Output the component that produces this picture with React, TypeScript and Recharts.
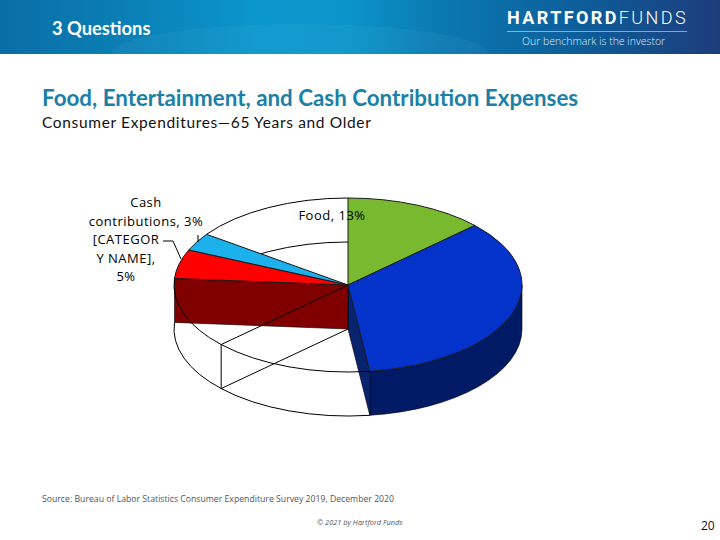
import { Pie, PieChart } from 'recharts';

const categories = ['Food', 'Housing', 'Transportation', 'Healthcare', '[CATEGORY NAME]', 'Cash contributions', 'Other'];
const shares = [13, 35, 15, 13.2, 5.4, 3.3, 15.1];
const topColors = ['#79b92f', '#0433cc', '', '', '#ff0000', '#1cb0ec', ''];
const wallColors = ['#3d5e18', '#001a66', '', '', '#800000', '#0e5876', ''];
const endWallColors = ['#3d5e18', '#08246f', '', '', '#800000', '#0e5876', ''];

const labelLines: Record<string, string[]> = {
  Food: ['Food, 13%'],
  'Cash contributions': ['Cash', 'contributions, 3%'],
  '[CATEGORY NAME]': ['[CATEGOR', 'Y NAME],', '5%'],
};
const labelSpots: Record<string, { x: number; y: number; leader?: string }> = {
  Food: { x: 332, y: 220 },
  'Cash contributions': { x: 146, y: 207, leader: 'M198 235 L198 242' },
  '[CATEGORY NAME]': { x: 126, y: 244, leader: 'M163 241 L173 241 L181 259' },
};

const pieData = categories.map((name, i) => ({ name, value: shares[i] }));

const DEPTH = 44;
const SQUASH = 0.5;
const rad = (deg: number) => (deg * Math.PI) / 180;

function pt(cx: number, cy: number, r: number, a: number) {
  return { x: cx + r * Math.cos(rad(a)), y: cy - r * SQUASH * Math.sin(rad(a)) };
}

// arc from angle a to b, clockwise on screen
function arc(cx: number, cy: number, r: number, a: number, b: number, move: boolean) {
  const p = pt(cx, cy, r, a);
  const q = pt(cx, cy, r, b);
  const large = Math.abs(a - b) > 180 ? 1 : 0;
  return `${move ? 'M' : 'L'}${p.x} ${p.y} A${r} ${r * SQUASH} 0 ${large} 1 ${q.x} ${q.y}`;
}

function radialWall(cx: number, cy: number, r: number, a: number) {
  const p = pt(cx, cy, r, a);
  return `M${cx} ${cy} L${p.x} ${p.y} L${p.x} ${p.y + DEPTH} L${cx} ${cy + DEPTH} Z`;
}

function outerWall(cx: number, cy: number, r: number, a: number, b: number) {
  const p = pt(cx, cy, r, a);
  const q = pt(cx, cy, r, b);
  const ry = r * SQUASH;
  return `M${p.x} ${p.y} A${r} ${ry} 0 0 1 ${q.x} ${q.y} L${q.x} ${q.y + DEPTH} A${r} ${ry} 0 0 0 ${p.x} ${p.y + DEPTH} Z`;
}

function WallShape(props: any) {
  const { cx, cy, outerRadius: r, startAngle, endAngle, name } = props;
  const i = categories.indexOf(name);
  if (!topColors[i]) return null;
  const n = categories.length;
  const parts = [];
  // only the front half of the rim faces the viewer (0 to -180 in recharts angles)
  const from = Math.min(startAngle, 0);
  const to = Math.max(endAngle, -180);
  if (from > to) {
    parts.push(<path key="outer" d={outerWall(cx, cy, r, from, to)} fill={wallColors[i]} stroke="#000" strokeWidth={0.6} />);
  }
  if (!topColors[(i + n - 1) % n] && Math.cos(rad(startAngle)) < -0.01) {
    parts.push(<path key="start" d={radialWall(cx, cy, r, startAngle)} fill={wallColors[i]} stroke="#000" strokeWidth={0.6} />);
  }
  if (!topColors[(i + 1) % n] && Math.cos(rad(endAngle)) > 0.01) {
    parts.push(<path key="end" d={radialWall(cx, cy, r, endAngle)} fill={endWallColors[i]} stroke="#000" strokeWidth={0.6} />);
  }
  return <g>{parts}</g>;
}

function WireShape(props: any) {
  const { cx, cy, outerRadius: r, startAngle, endAngle, name } = props;
  const i = categories.indexOf(name);
  if (topColors[i]) return null;
  const n = categories.length;
  let d = `${arc(cx, cy, r, startAngle, endAngle, true)} ${arc(cx, cy + DEPTH, r, startAngle, endAngle, true)}`;
  if (!topColors[(i + n - 1) % n]) {
    const p = pt(cx, cy, r, startAngle);
    d += ` M${cx} ${cy} L${p.x} ${p.y} L${p.x} ${p.y + DEPTH} L${cx} ${cy + DEPTH}`;
  }
  return <path d={d} fill="none" stroke="#000" strokeWidth={1} />;
}

function TopShape(props: any) {
  const { cx, cy, outerRadius: r, startAngle, endAngle, name } = props;
  const i = categories.indexOf(name);
  if (!topColors[i]) return null;
  const d = `M${cx} ${cy} ${arc(cx, cy, r, startAngle, endAngle, false)} Z`;
  return <path d={d} fill={topColors[i]} stroke="#1a1a1a" strokeWidth={1} />;
}

function SliceLabel(props: any) {
  const name = props.name;
  const lines = labelLines[name];
  const spot = labelSpots[name];
  if (!lines || !spot) return null;
  return (
    <g>
      {spot.leader ? <path d={spot.leader} fill="none" stroke="#000" strokeWidth={1} /> : null}
      <text textAnchor="middle" fontFamily="'Open Sans', sans-serif" fontSize={13} letterSpacing={0.5} fill="#000">
        {lines.map((line, k) => (
          <tspan key={line} x={spot.x} y={spot.y + k * 18.7}>{line}</tspan>
        ))}
      </text>
    </g>
  );
}

const pieProps = {
  data: pieData,
  dataKey: 'value',
  nameKey: 'name',
  cx: 348,
  cy: 285,
  outerRadius: 174,
  startAngle: 90,
  endAngle: -270,
  stroke: 'none',
  isAnimationActive: false,
  labelLine: false,
};

export default function App() {
  return (
    <div style={{ position: 'absolute', left: 0, top: 0, width: 720, height: 540, background: '#fff', overflow: 'hidden', fontFamily: "'Open Sans', sans-serif" }}>
      <div
        style={{
          position: 'absolute', left: 0, top: 0, width: 720, height: 54,
          background:
            'radial-gradient(ellipse 190px 30px at 300px 54px, rgba(255,255,255,0.035) 0 99%, transparent 100%), linear-gradient(90deg, #0a6ea6 0%, #0a80b6 18%, #0a97cd 36%, #0a95ca 48%, #0a78b0 62%, #0d5b98 82%, #1f3c7c 100%)',
        }}
      />
      <div style={{ position: 'absolute', left: 52, top: 17, color: '#fff', fontSize: 18.3, fontWeight: 700, lineHeight: '22px', fontFamily: 'Lato, sans-serif' }}>3 Questions</div>
      <div style={{ position: 'absolute', left: 507, top: 8, color: '#fff', fontSize: 18, lineHeight: '20px', whiteSpace: 'nowrap', letterSpacing: 2.4, fontFamily: 'Roboto, sans-serif' }}>
        <b style={{ fontWeight: 700 }}>HARTFORD</b><span style={{ fontWeight: 300 }}>FUNDS</span>
      </div>
      <div style={{ position: 'absolute', left: 507, top: 31, width: 180, height: 1, background: 'rgba(255,255,255,0.5)' }} />
      <div style={{ position: 'absolute', left: 522, top: 34, color: '#dcecf5', fontSize: 10.5, fontWeight: 300, lineHeight: '14px', whiteSpace: 'nowrap' }}>Our benchmark is the investor</div>

      <div style={{ position: 'absolute', left: 42, top: 84, color: '#1b7fa8', fontSize: 22.35, fontWeight: 700, lineHeight: '27px', whiteSpace: 'nowrap', fontFamily: 'Lato, sans-serif' }}>
        Food, Entertainment, and Cash Contribution Expenses
      </div>
      <div style={{ position: 'absolute', left: 42, top: 112, color: '#111', fontSize: 15.5, letterSpacing: 0.65, lineHeight: '20px', whiteSpace: 'nowrap', fontFamily: 'Lato, sans-serif' }}>
        Consumer Expenditures—65 Years and Older
      </div>

      <div style={{ position: 'absolute', left: 0, top: 0 }}>
        <PieChart width={720} height={540} margin={{ top: 0, right: 0, bottom: 0, left: 0 }}>
          <Pie {...pieProps} shape={WallShape} />
          <Pie {...pieProps} shape={WireShape} />
          <Pie {...pieProps} shape={TopShape} label={SliceLabel} />
        </PieChart>
      </div>

      <div style={{ position: 'absolute', left: 42, top: 493, color: '#555', fontSize: 8.7, lineHeight: '12px', whiteSpace: 'nowrap' }}>
        Source: Bureau of Labor Statistics Consumer Expenditure Survey 2019, December 2020
      </div>
      <div style={{ position: 'absolute', left: 317, top: 517, color: '#555', fontSize: 7.4, fontStyle: 'italic', lineHeight: '10px', whiteSpace: 'nowrap' }}>
        © 2021 by Hartford Funds
      </div>
      <div style={{ position: 'absolute', left: 701, top: 518, color: '#111', fontSize: 12, lineHeight: '15px' }}>20</div>
    </div>
  );
}
